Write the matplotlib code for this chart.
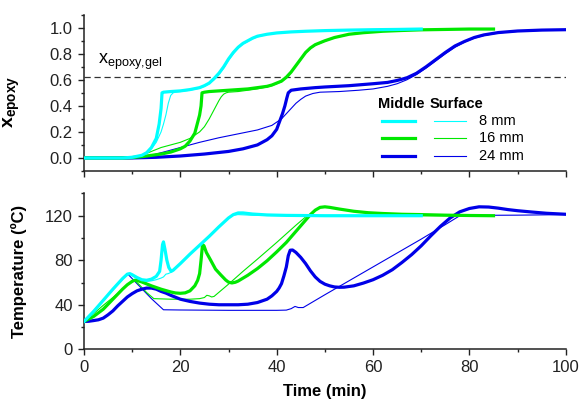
import matplotlib
matplotlib.use("Agg")
import matplotlib.pyplot as plt
from matplotlib.ticker import MultipleLocator
from matplotlib.lines import Line2D

plt.rcParams['font.family'] = ['Liberation Sans', 'DejaVu Sans']
plt.rcParams['mathtext.fontset'] = 'custom'
plt.rcParams['mathtext.rm'] = 'Liberation Sans'
plt.rcParams['mathtext.it'] = 'Liberation Sans:italic'
plt.rcParams['mathtext.bf'] = 'Liberation Sans:bold'

C_CYAN = '#00FFFF'
C_GREEN = '#00E800'
C_BLUE = '#0000E8'

# ---------------- top panel: degree of cure ----------------
t_x_mid8 = [0, 5, 8, 10, 12, 13, 14, 15, 15.6, 16.0, 16.2, 16.5, 18, 20, 22, 24, 25, 26, 27, 28, 29, 30,
            31, 32, 33, 34, 35, 36, 38, 40, 43, 46, 50, 55, 60, 65, 70]
x_mid8 = [0, 0, 0, 0.005, 0.02, 0.04, 0.08, 0.15, 0.26, 0.38, 0.50, 0.505, 0.51, 0.515, 0.525, 0.54, 0.555,
          0.575, 0.61, 0.65, 0.70, 0.76, 0.81, 0.85, 0.88, 0.90, 0.92, 0.935, 0.95, 0.96, 0.968, 0.973, 0.978,
          0.982, 0.985, 0.987, 0.99]
t_x_sur8 = [0, 5, 8, 10, 12, 13, 14, 15, 16, 16.5, 17, 17.5, 18, 18.5, 19, 20, 22, 24, 25, 26, 27, 28, 29, 30,
            31, 32, 33, 34, 35, 36, 38, 40, 43, 46, 50, 55, 60, 65, 70]
x_sur8 = [0, 0, 0, 0.005, 0.02, 0.04, 0.07, 0.12, 0.20, 0.26, 0.33, 0.42, 0.48, 0.50, 0.505, 0.51, 0.52, 0.535,
          0.55, 0.57, 0.60, 0.64, 0.69, 0.75, 0.80, 0.845, 0.875, 0.895, 0.915, 0.93, 0.948, 0.958, 0.967,
          0.972, 0.977, 0.981, 0.984, 0.986, 0.989]

t_x_mid16 = [0, 5, 8, 10, 12, 14, 16, 18, 20, 21, 22, 23, 23.5, 24, 24.3, 24.5, 25, 26, 28, 30, 32, 34, 36,
             38, 39, 40, 41, 42, 43, 44, 45, 46, 47, 48, 50, 52, 55, 58, 62, 66, 70, 75, 80, 85]
x_mid16 = [0, 0, 0, 0.003, 0.01, 0.02, 0.03, 0.045, 0.07, 0.09, 0.13, 0.19, 0.26, 0.33, 0.40, 0.50, 0.505,
           0.51, 0.515, 0.52, 0.525, 0.53, 0.54, 0.55, 0.56, 0.575, 0.59, 0.62, 0.66, 0.71, 0.76, 0.81, 0.845,
           0.87, 0.90, 0.925, 0.95, 0.962, 0.973, 0.979, 0.984, 0.987, 0.99, 0.99]
t_x_sur16 = [0, 5, 8, 10, 12, 14, 16, 18, 20, 22, 24, 25, 26, 27, 28, 28.5, 29, 29.5, 30, 32, 34, 36, 38, 39,
             40, 41, 42, 43, 44, 45, 46, 47, 48, 50, 52, 55, 58, 62, 66, 70, 75, 80, 85]
x_sur16 = [0, 0, 0, 0.005, 0.02, 0.05, 0.08, 0.10, 0.12, 0.15, 0.20, 0.24, 0.30, 0.37, 0.44, 0.47, 0.49, 0.50,
           0.505, 0.51, 0.52, 0.53, 0.545, 0.555, 0.57, 0.585, 0.615, 0.655, 0.705, 0.755, 0.805, 0.84, 0.865,
           0.897, 0.922, 0.948, 0.96, 0.972, 0.978, 0.983, 0.986, 0.989, 0.99]

t_x_mid24 = [0, 5, 10, 15, 20, 25, 30, 33, 36, 38, 39, 40, 40.7, 41.2, 41.7, 42.1, 42.4, 43, 45, 48, 50, 55,
             60, 63, 65, 67, 69, 71, 73, 75, 77, 79, 81, 83, 86, 90, 95, 100]
x_mid24 = [0, 0, 0, 0.005, 0.015, 0.03, 0.05, 0.07, 0.10, 0.14, 0.17, 0.22, 0.29, 0.34, 0.40, 0.46, 0.50,
           0.52, 0.53, 0.54, 0.545, 0.555, 0.57, 0.58, 0.595, 0.615, 0.65, 0.70, 0.755, 0.81, 0.86, 0.895,
           0.925, 0.945, 0.963, 0.975, 0.982, 0.985]
t_x_sur24 = [0, 5, 8, 10, 12, 14, 16, 18, 20, 24, 28, 32, 36, 39, 41, 42, 43, 44, 45, 46, 47.5, 49, 53, 57,
             60, 63, 65, 67, 69, 71, 73, 75, 77, 79, 81, 83, 86, 90, 95, 100]
x_sur24 = [0, 0, 0, 0.003, 0.01, 0.02, 0.04, 0.06, 0.08, 0.12, 0.155, 0.185, 0.215, 0.25, 0.30, 0.34, 0.38,
           0.42, 0.45, 0.475, 0.495, 0.505, 0.51, 0.52, 0.53, 0.55, 0.57, 0.60, 0.64, 0.69, 0.745, 0.80, 0.85,
           0.89, 0.92, 0.94, 0.96, 0.972, 0.98, 0.985]

x_gel = 0.625

# ---------------- bottom panel: temperature ----------------
t_T_mid8 = [0, 2, 4, 6, 8, 9, 9.5, 10, 11, 12, 13, 14, 15, 15.7, 16.0, 16.3, 16.5, 16.8, 17.2, 17.6, 18.1,
            18.5, 20, 22, 24, 26, 28, 30, 31, 32, 33, 35, 38, 42, 50, 60, 70]
T_mid8 = [25, 34, 44, 54, 63.5, 67.5, 68, 67, 64.5, 62.5, 62, 63, 65.5, 70, 80, 94, 96.5, 90, 80, 73.5, 70,
          71, 77, 85.5, 93.5, 101.5, 110, 118, 121, 122.5, 122.5, 121.5, 120.7, 120.3, 120, 120, 120]
t_T_sur8 = [0, 2, 4, 6, 8, 9, 9.5, 10, 11, 12, 13, 14, 15, 16, 16.5, 17, 17.5, 18, 18.5, 20, 22, 24, 26, 28,
            30, 31, 32, 33, 35, 38, 42, 50, 60, 70]
T_sur8 = [25, 34.5, 44, 53.5, 63, 68, 67.5, 66, 63.5, 61.5, 61, 61.5, 62.5, 64, 65, 67.5, 68, 69, 71, 77,
          85.5, 93.5, 101.5, 110, 118, 120.5, 121, 120.8, 120.4, 120.2, 120, 120, 120, 120]

t_T_mid16 = [0, 2, 4, 6, 8, 9, 10, 10.5, 11, 12, 14, 16, 18, 19, 20, 21, 22, 23, 23.6, 24, 24.3, 24.6, 24.9,
             25.4, 26.3, 27.3, 28.4, 29.4, 30.0, 30.7, 31.4, 32, 34, 36, 38, 40, 42, 44, 46, 47, 48, 49, 50,
             51, 53, 56, 59, 62, 66, 70, 75, 80, 85]
T_mid16 = [25, 29.5, 36, 45, 54, 58, 61, 62, 61.8, 60.5, 57, 54, 51.5, 50.6, 50.3, 50.7, 52.5, 57, 62, 68, 80,
           94, 93, 87, 80, 72, 66.8, 62.3, 60.3, 59.6, 60.2, 61.3, 66.5, 72.5, 79.5, 87.5, 96, 106, 116, 121,
           125, 127.5, 128, 127.5, 126, 124, 122.7, 122, 121.3, 121, 120.5, 120.2, 120]
t_T_sur16 = [0, 2, 4, 6, 8, 9, 10.5, 11.5, 13, 14.5, 18, 22, 24, 25, 25.5, 26, 26.5, 27, 30, 33, 36, 40, 44,
             46.3, 48, 50, 60, 70, 85]
T_sur16 = [25, 32, 39.5, 46.5, 54, 58, 62, 58, 51, 45.5, 45, 45, 45.5, 46.5, 48.5, 48, 47, 47.5, 58.5, 70,
           81, 96, 111.5, 120, 120.2, 120, 120, 120, 120]

t_T_mid24 = [0, 1, 2, 3, 4, 5, 6, 7, 8, 9, 10, 11, 12, 13, 14, 15, 16, 17, 18, 20, 22, 24, 26, 28, 30, 32, 34,
             36, 38, 39, 40, 40.5, 41, 41.5, 42, 42.4, 42.8, 43.3, 44, 45, 46, 47, 48, 49, 50, 51, 52, 53, 54,
             56, 58, 60, 62, 64, 66, 68, 70, 72, 74, 76, 78, 80, 82, 84, 86, 88, 90, 93, 96, 100]
T_mid24 = [25, 25.2, 25.8, 26.5, 28, 31, 34.5, 39, 43, 47, 50, 52.5, 54, 55, 55, 54, 52, 50.5, 48.5, 45, 43,
           41.5, 40.5, 40, 40, 40, 40.5, 42, 45, 48, 52, 55, 59, 66, 74, 84, 89, 89.2, 87, 82.5, 77, 70.5,
           65, 61, 58.5, 57, 56, 55.7, 55.8, 57, 59.5, 62.5, 66.5, 71.5, 78, 85, 93, 102, 110.5, 118, 123.5,
           126.5, 128, 127.8, 126.8, 125.5, 124.5, 123.3, 122.2, 121.3]
t_T_sur24 = [0, 2, 4, 6, 8, 9, 12, 14, 16.5, 20, 30, 40, 42, 43, 43.8, 44.5, 45.5, 50, 55, 60, 65, 70, 75,
             78, 80, 90, 100]
T_sur24 = [25, 34.5, 44, 53.5, 63, 68, 54.5, 45.5, 35.5, 35.3, 35, 35, 35.2, 36.5, 38.5, 37.5, 37.5, 49,
           61.5, 74, 86.5, 99, 112, 120, 120.3, 120.5, 121]

legend_labels = ['8 mm', '16 mm', '24 mm']

fig = plt.figure(figsize=(5.84, 4.09), dpi=100)
ax1 = fig.add_axes([0.1438, 0.582, 0.825, 0.382])
ax2 = fig.add_axes([0.1438, 0.146, 0.825, 0.381])

LW_THICK = 2.3
LW_THIN = 0.8

ax1.plot(t_x_sur8, x_sur8, color=C_CYAN, lw=LW_THIN, zorder=3)
ax1.plot(t_x_sur16, x_sur16, color=C_GREEN, lw=LW_THIN, zorder=3)
ax1.plot(t_x_sur24, x_sur24, color=C_BLUE, lw=LW_THIN, zorder=3)
ax1.plot(t_x_mid24, x_mid24, color=C_BLUE, lw=LW_THICK, zorder=4)
ax1.plot(t_x_mid16, x_mid16, color=C_GREEN, lw=LW_THICK, zorder=4)
ax1.plot(t_x_mid8, x_mid8, color=C_CYAN, lw=LW_THICK, zorder=5)
ax1.axhline(x_gel, color='#333333', lw=0.9, ls=(0, (5, 3)), zorder=2)
ax1.text(3.0, 0.72, r'$\mathrm{x}_{\mathrm{epoxy{,}gel}}$', fontsize=13, va='baseline', ha='left')

ax2.plot(t_T_sur24, T_sur24, color=C_BLUE, lw=LW_THIN, zorder=3)
ax2.plot(t_T_sur16, T_sur16, color=C_GREEN, lw=LW_THIN, zorder=3)
ax2.plot(t_T_sur8, T_sur8, color=C_CYAN, lw=LW_THIN, zorder=3)
ax2.plot(t_T_mid24, T_mid24, color=C_BLUE, lw=LW_THICK, zorder=4)
ax2.plot(t_T_mid16, T_mid16, color=C_GREEN, lw=LW_THICK, zorder=4)
ax2.plot(t_T_mid8, T_mid8, color=C_CYAN, lw=LW_THICK, zorder=5)

for ax in (ax1, ax2):
    ax.set_xlim(0, 100)
    ax.spines['top'].set_visible(False)
    ax.spines['right'].set_visible(False)
    for s in ('left', 'bottom'):
        ax.spines[s].set_linewidth(1.1)
        ax.spines[s].set_color('#222222')
    ax.xaxis.set_major_locator(MultipleLocator(20))
    ax.xaxis.set_minor_locator(MultipleLocator(10))
    ax.tick_params(which='major', direction='out', length=4.5, width=1.0, labelsize=12, colors='#222222')
    ax.tick_params(which='minor', direction='out', length=2.5, width=1.0, colors='#222222')

ax1.set_ylim(-0.1, 1.1)
ax1.yaxis.set_major_locator(MultipleLocator(0.2))
ax1.yaxis.set_minor_locator(MultipleLocator(0.1))
ax1.set_yticks([0.0, 0.2, 0.4, 0.6, 0.8, 1.0])
ax1.set_yticklabels(['0.0', '0.2', '0.4', '0.6', '0.8', '1.0'])
ax1.tick_params(axis='x', labelbottom=False)
ax1.set_ylabel(r'$\mathbf{x}_{\mathbf{epoxy}}$', fontsize=14)
ax1.yaxis.set_label_coords(-0.128, 0.44)

ax2.set_ylim(0, 140)
ax2.yaxis.set_major_locator(MultipleLocator(40))
ax2.yaxis.set_minor_locator(MultipleLocator(20))
ax2.set_ylabel('Temperature (ºC)', fontsize=12, fontweight='bold')
ax2.yaxis.set_label_coords(-0.118, 0.5)
ax2.set_xlabel('Time (min)', fontsize=12, fontweight='bold', labelpad=6)

# legend drawn manually (two columns of line samples)
ax1.text(0.61, 0.43, 'Middle', transform=ax1.transAxes, fontsize=10.5, fontweight='bold', va='center', ha='left')
ax1.text(0.717, 0.43, 'Surface', transform=ax1.transAxes, fontsize=10.5, fontweight='bold', va='center', ha='left')
ys = [0.32, 0.208, 0.096]
for c, y, lab in zip([C_CYAN, C_GREEN, C_BLUE], ys, legend_labels):
    ax1.add_line(Line2D([0.618, 0.687], [y, y], transform=ax1.transAxes, color=c, lw=LW_THICK))
    ax1.add_line(Line2D([0.726, 0.793], [y, y], transform=ax1.transAxes, color=c, lw=LW_THIN))
    ax1.text(0.82, y, lab, transform=ax1.transAxes, fontsize=10.5, va='center', ha='left')

fig.savefig('out.png', dpi=100)
